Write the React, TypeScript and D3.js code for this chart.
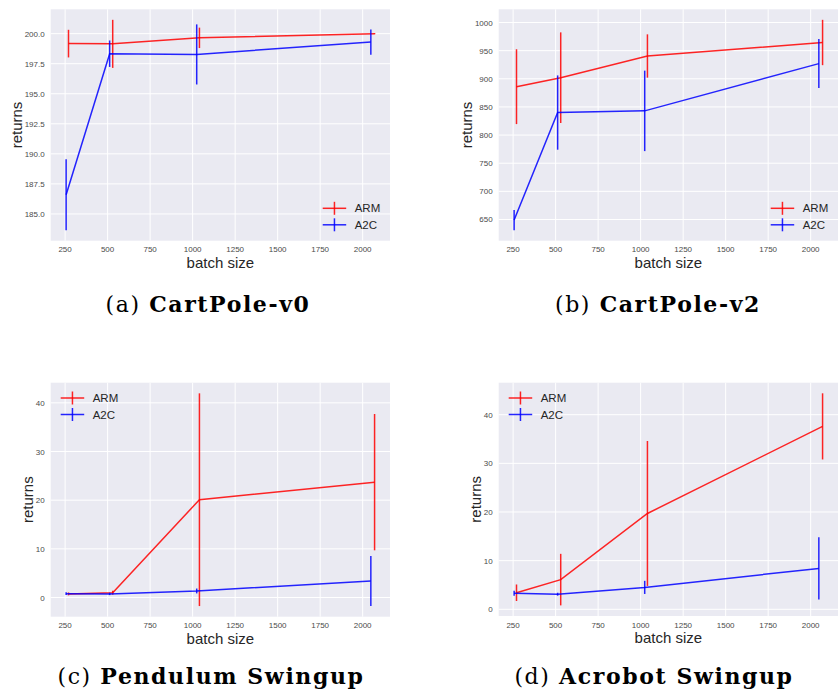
import React from 'react';
import * as d3 from 'd3';

const batchA2C = [256, 512, 1024, 2048];
const batchARM = [270, 530, 1040, 2070];
const xTicks = [250, 500, 750, 1000, 1250, 1500, 1750, 2000];

const cp0ArmMean = [199.17, 199.15, 199.65, 200.0];
const cp0ArmErr = [1.15, 2.0, 0.85, 0.05];
const cp0A2cMean = [186.6, 198.33, 198.27, 199.3];
const cp0A2cErr = [2.95, 1.1, 2.5, 1.05];

const cp2ArmMean = [886, 902, 940.5, 964.5];
const cp2ArmErr = [66.5, 80.5, 38.5, 40.3];
const cp2A2cMean = [649, 840, 843, 927];
const cp2A2cErr = [18, 66, 71.5, 43.5];

const pendArmMean = [0.75, 1.0, 20.1, 23.7];
const pendArmErr = [0.3, 0.4, 21.85, 14.0];
const pendA2cMean = [0.8, 0.75, 1.35, 3.4];
const pendA2cErr = [0.3, 0.25, 0.5, 5.15];

const acroArmMean = [3.4, 6.1, 19.7, 37.6];
const acroArmErr = [1.7, 5.3, 14.9, 6.8];
const acroA2cMean = [3.3, 3.1, 4.5, 8.4];
const acroA2cErr = [0.5, 0.3, 1.35, 6.4];

const cp0Ticks = [185, 187.5, 190, 192.5, 195, 197.5, 200];
const cp2Ticks = [650, 700, 750, 800, 850, 900, 950, 1000];
const swingTicks = [0, 10, 20, 30, 40];

const captionLetters = ['(a)', '(b)', '(c)', '(d)'];
const captionTitles = ['CartPole-v0', 'CartPole-v2', 'Pendulum Swingup', 'Acrobot Swingup'];
const seriesNames = ['ARM', 'A2C'];
const seriesColors = ['#ff0000', '#0000ff'];

const SANS = '"Liberation Sans", Arial, sans-serif';
const SERIF = '"DejaVu Serif", "Liberation Serif", serif';

type PanelProps = {
  x0: number; x1: number; y0: number; y1: number;
  yTicks: number[]; yFmt: (v: number) => string;
  armMean: number[]; armErr: number[]; a2cMean: number[]; a2cErr: number[];
  legend: 'lr' | 'ul';
  ylabelX: number;
  idx: number; capX: number; capY: number;
};

function Panel(p: PanelProps) {
  const xs = [...batchA2C, ...batchARM];
  const xmin = d3.min(xs)!, xmax = d3.max(xs)!;
  const xm = (xmax - xmin) * 0.05;
  const x = d3.scaleLinear().domain([xmin - xm, xmax + xm]).range([p.x0, p.x1]);
  const lows = [...p.armMean.map((m, i) => m - p.armErr[i]), ...p.a2cMean.map((m, i) => m - p.a2cErr[i])];
  const highs = [...p.armMean.map((m, i) => m + p.armErr[i]), ...p.a2cMean.map((m, i) => m + p.a2cErr[i])];
  const ymin = d3.min(lows)!, ymax = d3.max(highs)!;
  const ym = (ymax - ymin) * 0.05;
  const y = d3.scaleLinear().domain([ymin - ym, ymax + ym]).range([p.y1, p.y0]);
  const series = [
    { xs: batchARM, mean: p.armMean, err: p.armErr, color: seriesColors[0] },
    { xs: batchA2C, mean: p.a2cMean, err: p.a2cErr, color: seriesColors[1] },
  ];
  const lx = p.legend === 'lr' ? p.x1 - 67.3 : p.x0 + 10;
  const ly = p.legend === 'lr' ? p.y1 - 32.4 : p.y0 + 15.3;
  return (
    <g>
      <rect x={p.x0} y={p.y0} width={p.x1 - p.x0} height={p.y1 - p.y0} fill="#EAEAF2" />
      {xTicks.map(t => (
        <line key={'gx' + t} x1={x(t)} x2={x(t)} y1={p.y0} y2={p.y1} stroke="#fff" strokeWidth={1} />
      ))}
      {p.yTicks.map(t => (
        <line key={'gy' + t} x1={p.x0} x2={p.x1} y1={y(t)} y2={y(t)} stroke="#fff" strokeWidth={1} />
      ))}
      {xTicks.map(t => (
        <text key={'tx' + t} x={x(t)} y={p.y1 + 11.5} textAnchor="middle" fontSize={8} fill="#4a4a4a" fontFamily={SANS}>{t}</text>
      ))}
      {p.yTicks.map(t => (
        <text key={'ty' + t} x={p.x0 - 6} y={y(t) + 3} textAnchor="end" fontSize={8} fill="#4a4a4a" fontFamily={SANS}>{p.yFmt(t)}</text>
      ))}
      {series.map((s, si) => {
        const path = d3.line<number>().x((_, i) => x(s.xs[i])).y(v => y(v))(s.mean) || '';
        return (
          <g key={si} stroke={s.color} strokeOpacity={0.85} fill="none" strokeWidth={1.5}>
            <path d={path} />
            {s.mean.map((m, i) => (
              <line key={i} x1={x(s.xs[i])} x2={x(s.xs[i])} y1={y(m - s.err[i])} y2={y(m + s.err[i])} />
            ))}
          </g>
        );
      })}
      {seriesNames.map((n, i) => (
        <g key={n}>
          <line x1={lx} x2={lx + 23.5} y1={ly + i * 16.5} y2={ly + i * 16.5} stroke={seriesColors[i]} strokeOpacity={0.85} strokeWidth={1.5} />
          <line x1={lx + 11.75} x2={lx + 11.75} y1={ly + i * 16.5 - 6.5} y2={ly + i * 16.5 + 6.5} stroke={seriesColors[i]} strokeOpacity={0.85} strokeWidth={1.5} />
          <text x={lx + 32} y={ly + i * 16.5 + 4} fontSize={11.5} fill="#262626" fontFamily={SANS}>{n}</text>
        </g>
      ))}
      <text x={(p.x0 + p.x1) / 2} y={p.y1 + 27} textAnchor="middle" fontSize={15} fill="#262626" fontFamily={SANS}>batch size</text>
      <text transform={`translate(${p.ylabelX},${(p.y0 + p.y1) / 2}) rotate(-90)`} textAnchor="middle" fontSize={15} fill="#262626" fontFamily={SANS}>returns</text>
      <text x={p.capX} y={p.capY} textAnchor="middle" fontSize={22} letterSpacing={1.6} fill="#000" fontFamily={SERIF}>
        <tspan>{captionLetters[p.idx]} </tspan>
        <tspan fontWeight="bold">{captionTitles[p.idx]}</tspan>
      </text>
    </g>
  );
}

export default function App() {
  const f1 = d3.format('.1f');
  const f0 = d3.format('d');
  return (
    <div style={{ position: 'absolute', left: 0, top: 0 }}>
      <svg width={838} height={693} style={{ display: 'block', background: '#fff' }}>
        <Panel x0={50.7} x1={390} y0={9.3} y1={240.7} yTicks={cp0Ticks} yFmt={f1}
          armMean={cp0ArmMean} armErr={cp0ArmErr} a2cMean={cp0A2cMean} a2cErr={cp0A2cErr}
          legend="lr" ylabelX={21.5} idx={0} capX={208} capY={312} />
        <Panel x0={498.7} x1={838} y0={9.3} y1={240.7} yTicks={cp2Ticks} yFmt={f0}
          armMean={cp2ArmMean} armErr={cp2ArmErr} a2cMean={cp2A2cMean} a2cErr={cp2A2cErr}
          legend="lr" ylabelX={471.5} idx={1} capX={658} capY={312} />
        <Panel x0={50.7} x1={390} y0={382.7} y1={616.7} yTicks={swingTicks} yFmt={f0}
          armMean={pendArmMean} armErr={pendArmErr} a2cMean={pendA2cMean} a2cErr={pendA2cErr}
          legend="ul" ylabelX={32.5} idx={2} capX={211} capY={684} />
        <Panel x0={498.7} x1={838} y0={382.7} y1={616} yTicks={swingTicks} yFmt={f0}
          armMean={acroArmMean} armErr={acroArmErr} a2cMean={acroA2cMean} a2cErr={acroA2cErr}
          legend="ul" ylabelX={480.5} idx={3} capX={654} capY={684} />
      </svg>
    </div>
  );
}
